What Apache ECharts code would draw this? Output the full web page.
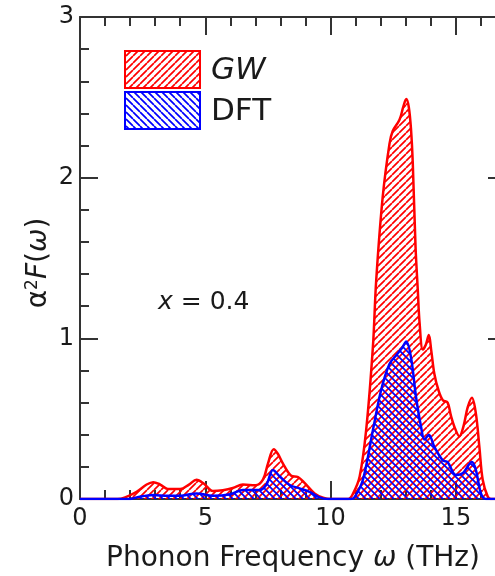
<!DOCTYPE html>
<html>
<head>
<meta charset="utf-8">
<script src="https://cdn.jsdelivr.net/npm/echarts@6/dist/echarts.min.js"></script>
<style>
  html, body { margin: 0; padding: 0; background: #fff; }
  #chart { width: 495px; height: 576px; }
</style>
</head>
<body>
<div id="chart"></div>
<script>
// Eliashberg spectral function α²F(ω), x = 0.4
const freqGW = [0, 1.5, 1.8, 2.26, 2.66, 2.92, 3.2, 3.5, 4.0, 4.35, 4.65, 4.95, 5.3, 5.7, 6.1, 6.5, 7.0, 7.3, 7.5, 7.73, 7.9, 8.1, 8.43, 8.7, 8.96, 9.36, 9.7, 10.0,
  10.7, 10.9, 11.16, 11.42, 11.69, 11.82, 12.08, 12.35, 12.48, 12.75, 12.9, 13.02, 13.12, 13.21, 13.28, 13.39, 13.48, 13.55, 13.68, 13.8, 13.92, 14.02, 14.14,
  14.3, 14.48, 14.67, 14.8, 14.94, 15.14, 15.3, 15.47, 15.64, 15.8, 15.94, 16.07, 16.27, 16.4, 17];
const alphaGW = [0, 0, 0.01, 0.045, 0.09, 0.105, 0.09, 0.063, 0.062, 0.09, 0.12, 0.095, 0.05, 0.055, 0.068, 0.09, 0.085, 0.12, 0.22, 0.31, 0.28, 0.22, 0.145, 0.137, 0.1, 0.035, 0.008, 0,
  0, 0.035, 0.14, 0.43, 0.95, 1.36, 1.88, 2.21, 2.29, 2.36, 2.44, 2.49, 2.44, 2.3, 2.09, 1.57, 1.3, 1.1, 0.93, 0.96, 1.02, 0.92, 0.78,
  0.68, 0.615, 0.6, 0.52, 0.45, 0.39, 0.45, 0.57, 0.63, 0.53, 0.32, 0.12, 0.015, 0, 0];

const freqDFT = [0, 2.0, 2.26, 2.92, 3.5, 4.0, 4.65, 5.3, 6.0, 6.5, 7.17, 7.44, 7.7, 7.97, 8.37, 8.76, 9.16, 9.56, 9.9,
  10.8, 10.95, 11.29, 11.69, 12.02, 12.35, 12.62, 12.85, 13.02, 13.21, 13.41, 13.61, 13.75, 13.92, 14.14, 14.48, 14.67, 15.0, 15.27, 15.64, 15.8, 16.0, 16.2, 17];
const alphaDFT = [0, 0, 0.01, 0.025, 0.02, 0.02, 0.035, 0.02, 0.03, 0.056, 0.056, 0.09, 0.18, 0.14, 0.087, 0.066, 0.045, 0.01, 0,
  0, 0.01, 0.12, 0.43, 0.68, 0.84, 0.895, 0.94, 0.98, 0.88, 0.635, 0.45, 0.37, 0.40, 0.325, 0.24, 0.23, 0.15, 0.16, 0.23, 0.18, 0.035, 0, 0];

const seriesNames = ['GW', 'DFT'];
const RED = '#ff0000';
const BLUE = '#0000ff';
const FONT = '"DejaVu Sans", Arial, Helvetica, sans-serif';
const AXIS = '#333333';
const TEXT = '#1a1a1a';

// Diagonal hatch tile: '/' rises to the right, '\' falls to the right
function hatch(color, dir, size, width) {
  const c = document.createElement('canvas');
  c.width = size; c.height = size;
  const g = c.getContext('2d');
  g.strokeStyle = color;
  g.lineWidth = width;
  g.beginPath();
  for (let k = -1; k <= 1; k++) {
    if (dir === '/') { g.moveTo(k * size, size); g.lineTo(k * size + size, 0); }
    else { g.moveTo(k * size, 0); g.lineTo(k * size + size, size); }
  }
  g.stroke();
  return c;
}
const redHatch = hatch(RED, '/', 7, 1.7);
const blueHatch = hatch(BLUE, '\\', 7, 1.7);

const chart = echarts.init(document.getElementById('chart'), null, { renderer: 'canvas' });

const tickStyle = { color: AXIS, width: 2 };
function xAxisPair(position, showLabels) {
  return [
    { // minor ticks every 1 THz plus the axis line
      type: 'value', position, min: 0, max: 17, interval: 1,
      axisLine: { show: true, onZero: false, lineStyle: { color: AXIS, width: 2 } },
      axisTick: { show: true, inside: true, length: 9, lineStyle: tickStyle },
      axisLabel: showLabels ? {
        show: true, fontSize: 24, color: TEXT, fontFamily: FONT, margin: 8,
        formatter: v => (v % 5 === 0 ? String(v) : '')
      } : { show: false },
      splitLine: { show: false },
      name: showLabels ? '{n|Phonon Frequency }{i|ω}{n| (THz)}' : '',
      nameLocation: 'middle', nameGap: 46, nameMoveOverlap: false,
      nameTextStyle: {
        rich: {
          n: { fontSize: 28, fontFamily: FONT, color: TEXT },
          i: { fontSize: 28, fontFamily: FONT, color: TEXT, fontStyle: 'italic' }
        }
      }
    },
    { // major ticks every 5 THz
      type: 'value', position, min: 0, max: 17, interval: 5,
      axisLine: { show: false, onZero: false },
      axisTick: { show: true, inside: true, length: 18, lineStyle: tickStyle },
      axisLabel: { show: false },
      splitLine: { show: false }
    }
  ];
}

function yAxis(position, showLabels) {
  return {
    type: 'value', position, min: 0, max: 3, interval: 1,
    axisLine: { show: true, onZero: false, lineStyle: { color: AXIS, width: 2 } },
    axisTick: { show: true, inside: true, length: 18, lineStyle: tickStyle },
    minorTick: { show: true, splitNumber: 5, length: 9, lineStyle: tickStyle },
    axisLabel: showLabels ? { show: true, fontSize: 24, color: TEXT, fontFamily: FONT, margin: 6 } : { show: false },
    splitLine: { show: false },
    minorSplitLine: { show: false },
    name: showLabels ? '{a|α}{s|2}{i|F}{n|(}{i|ω}{n|)}' : '',
    nameLocation: 'middle', nameRotate: 90, nameGap: 27, nameMoveOverlap: false,
    nameTextStyle: {
      padding: [0, 10, 0, 0],
      rich: {
        a: { fontSize: 28, fontFamily: FONT, color: TEXT },
        s: { fontSize: 17, fontFamily: FONT, color: TEXT, verticalAlign: 'top', padding: [0, 0, 12, 0] },
        i: { fontSize: 28, fontFamily: FONT, color: TEXT, fontStyle: 'italic' },
        n: { fontSize: 28, fontFamily: FONT, color: TEXT }
      }
    }
  };
}

function pairs(xs, ys) { return xs.map((x, i) => [x, ys[i]]); }

const option = {
  backgroundColor: '#ffffff',
  animation: false,
  grid: { left: 80, right: -11, top: 17, bottom: 77, containLabel: false, outerBoundsMode: 'none' },
  xAxis: [...xAxisPair('bottom', true), ...xAxisPair('top', false)],
  yAxis: [yAxis('left', true), yAxis('right', false)],
  series: [
    {
      name: seriesNames[0], type: 'line', xAxisIndex: 0, yAxisIndex: 0,
      data: pairs(freqGW, alphaGW), smooth: 0.35, symbol: 'none', z: 2,
      lineStyle: { color: RED, width: 2.5 },
      areaStyle: { color: { image: redHatch, repeat: 'repeat' }, opacity: 1 }
    },
    {
      name: seriesNames[1], type: 'line', xAxisIndex: 0, yAxisIndex: 0,
      data: pairs(freqDFT, alphaDFT), smooth: 0.35, symbol: 'none', z: 3,
      lineStyle: { color: BLUE, width: 2.5 },
      areaStyle: { color: { image: blueHatch, repeat: 'repeat' }, opacity: 1 }
    }
  ],
  graphic: [
    { type: 'rect', shape: { x: 125, y: 51, width: 75, height: 37 }, z: 10,
      style: { fill: { image: redHatch, repeat: 'repeat' }, stroke: RED, lineWidth: 2 } },
    { type: 'rect', shape: { x: 125, y: 92, width: 75, height: 37 }, z: 10,
      style: { fill: { image: blueHatch, repeat: 'repeat' }, stroke: BLUE, lineWidth: 2 } },
    { type: 'text', x: 211, y: 71, z: 10,
      style: { text: seriesNames[0], font: 'italic 31px ' + FONT, fill: TEXT, verticalAlign: 'middle' } },
    { type: 'text', x: 211, y: 112, z: 10,
      style: { text: seriesNames[1], font: '31px ' + FONT, fill: TEXT, verticalAlign: 'middle' } },
    { type: 'text', x: 158, y: 302, z: 10,
      style: { text: '{i|x} = 0.4', font: '25px ' + FONT, fill: TEXT, verticalAlign: 'middle',
        rich: { i: { fontStyle: 'italic', fontSize: 25, fontFamily: FONT } } } }
  ]
};
chart.setOption(option);
</script>
</body>
</html>
